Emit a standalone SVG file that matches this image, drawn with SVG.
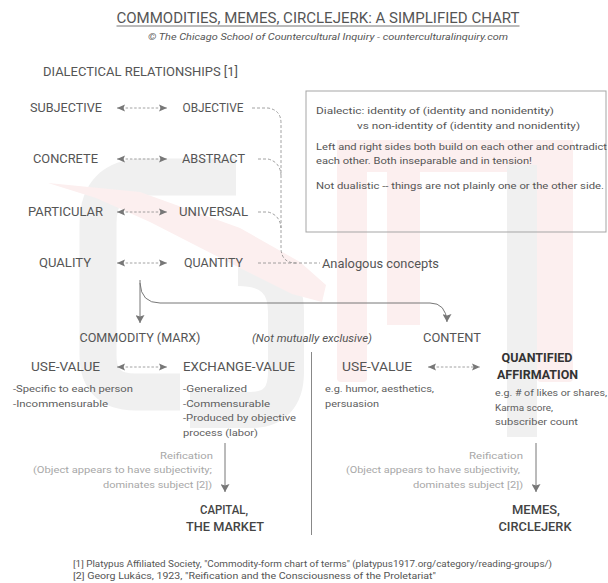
<svg xmlns="http://www.w3.org/2000/svg" width="608" height="583" viewBox="0 0 608 583">
<defs>
<style>
text{font-family:Roboto,"Liberation Sans",sans-serif;fill:#555}
.lbl{font-size:12px;text-anchor:middle}
.st{text-anchor:start}
.sm{font-size:9.6px;fill:#5e5e5e}
.box{font-size:9.6px;fill:#555}
.ref{font-size:9.6px;fill:#a8a8a8;text-anchor:end}
.big{font-size:12.5px;fill:#444;text-anchor:middle;font-weight:500}
.bold{font-weight:700;fill:#333}
.it{font-style:italic}
.wm-g{fill:none;stroke:#f0f0f0}
.wm-p{fill:#fcefef}
.dash{fill:none;stroke:#8a8a8a;stroke-width:0.8;stroke-dasharray:3 2}
.dbl{fill:none;stroke:#8a8a8a;stroke-width:0.8;stroke-dasharray:2.5 1.8;marker-start:url(#ah);marker-end:url(#ah)}
.sol{fill:none;stroke:#777;stroke-width:1}
</style>
<marker id="ah" viewBox="0 0 8 8" refX="8" refY="4" markerWidth="8" markerHeight="8" markerUnits="userSpaceOnUse" orient="auto-start-reverse">
<path d="M0,0.5 L8,4 L0,7.5 L1.5,4 z" fill="#777"/>
</marker>
<marker id="down" viewBox="0 0 9 8" refX="4.5" refY="8" markerWidth="9" markerHeight="8" markerUnits="userSpaceOnUse" orient="0">
<path d="M0,0 L4.5,8 L9,0 L4.5,1.5 z" fill="#777"/>
</marker>
</defs>
<rect width="608" height="583" fill="#fff"/>

<g id="watermark">
<path class="wm-g" stroke-width="37" d="M236 177 L145 177 Q98 177 98 224 L98 355 Q98 392 135 392 L180 392"/>
<path class="wm-g" stroke-width="36" d="M238 268 Q286 268 286 312 L286 372 Q286 410 250 410 L190 410"/>
<polygon class="wm-p" points="48,183 140,192 240,228 300,262 326,285 322,302 292,294 232,264 150,222 96,198"/>
<rect class="wm-p" x="337" y="140" width="236" height="32"/>
<rect class="wm-p" x="337" y="150" width="30" height="232" rx="4"/>
<rect class="wm-p" x="387" y="165" width="33" height="160"/>
<rect class="wm-p" x="537" y="150" width="36" height="232" rx="4"/>
<rect x="507" y="165" width="30" height="272" fill="#f0f0f0"/>
</g>

<g id="header">
<text x="318" y="22.5" class="lbl" textLength="403" lengthAdjust="spacingAndGlyphs" style="font-size:14px">COMMODITIES, MEMES, CIRCLEJERK: A SIMPLIFIED CHART</text>
<line x1="116.5" y1="26" x2="519.5" y2="26" stroke="#666" stroke-width="0.9"/>
<text x="328" y="40" class="lbl it" style="font-size:9.5px" textLength="360" lengthAdjust="spacingAndGlyphs">© The Chicago School of Countercultural Inquiry - counterculturalinquiry.com</text>
<text x="43" y="76" class="lbl st" textLength="195" lengthAdjust="spacingAndGlyphs">DIALECTICAL RELATIONSHIPS [1]</text>
</g>

<g id="connectors">
<line class="dbl" x1="117" y1="108" x2="167" y2="108"/>
<line class="dbl" x1="117" y1="159" x2="167" y2="159"/>
<line class="dbl" x1="117" y1="212" x2="167" y2="212"/>
<line class="dbl" x1="117" y1="263" x2="167" y2="263"/>
<line class="dbl" x1="117" y1="367" x2="167" y2="367"/>
<line class="dbl" x1="428" y1="367" x2="480" y2="367"/>
<path class="dash" d="M252 108 L268 108 Q281 110 281 123 L281 249 Q282 263 296 263 L320 263"/>
<path class="dash" d="M258 159 L268 159 Q280 162 281 175"/>
<path class="dash" d="M258 212 L268 212 Q280 215 281 228"/>
<path class="dash" d="M258 263 L296 263"/>
<path class="sol" d="M140 280 L140 323" marker-end="url(#down)"/>
<path class="sol" d="M140 283 Q141 303 160 303 L430 303 Q446 303 447 322" marker-end="url(#down)"/>
<line x1="311.5" y1="352" x2="311.5" y2="535" stroke="#888" stroke-width="1"/>
<path class="sol" d="M225 443 L225 492" marker-end="url(#down)"/>
<path class="sol" d="M536 443 L536 492" marker-end="url(#down)"/>
</g>

<g id="note-box">
<rect x="306" y="91" width="300" height="141" fill="none" stroke="#a5a5a5" stroke-width="1"/>
<text x="316" y="114" class="box" textLength="238" lengthAdjust="spacingAndGlyphs">Dialectic: identity of (identity and nonidentity)</text>
<text x="357" y="129" class="box" textLength="223" lengthAdjust="spacingAndGlyphs">vs non-identity of (identity and nonidentity)</text>
<text x="316" y="150" class="box" textLength="291" lengthAdjust="spacingAndGlyphs">Left and right sides both build on each other and contradict</text>
<text x="316" y="164" class="box" textLength="216" lengthAdjust="spacingAndGlyphs">each other. Both inseparable and in tension!</text>
<text x="316" y="189" class="box" textLength="288" lengthAdjust="spacingAndGlyphs">Not dualistic -- things are not plainly one or the other side.</text>
</g>

<g id="subjective"><text x="66" y="112.3" class="lbl" textLength="72" lengthAdjust="spacingAndGlyphs">SUBJECTIVE</text></g>
<g id="objective"><text x="213" y="112.3" class="lbl" textLength="61" lengthAdjust="spacingAndGlyphs">OBJECTIVE</text></g>
<g id="concrete"><text x="65.5" y="163.3" class="lbl" textLength="65" lengthAdjust="spacingAndGlyphs">CONCRETE</text></g>
<g id="abstract"><text x="213.5" y="163.3" class="lbl" textLength="63" lengthAdjust="spacingAndGlyphs">ABSTRACT</text></g>
<g id="particular"><text x="65.5" y="216.3" class="lbl" textLength="75" lengthAdjust="spacingAndGlyphs">PARTICULAR</text></g>
<g id="universal"><text x="213.5" y="216.3" class="lbl" textLength="69" lengthAdjust="spacingAndGlyphs">UNIVERSAL</text></g>
<g id="quality"><text x="65" y="267.3" class="lbl" textLength="52" lengthAdjust="spacingAndGlyphs">QUALITY</text></g>
<g id="quantity"><text x="213.5" y="267.3" class="lbl" textLength="59" lengthAdjust="spacingAndGlyphs">QUANTITY</text></g>
<g id="analogous"><text x="322" y="268" class="lbl st" textLength="117" lengthAdjust="spacingAndGlyphs">Analogous concepts</text></g>

<g id="commodity"><text x="140" y="342.3" class="lbl" textLength="121" lengthAdjust="spacingAndGlyphs">COMMODITY (MARX)</text></g>
<g id="not-exclusive"><text x="312" y="341.5" class="lbl it" style="font-size:10.5px" textLength="120" lengthAdjust="spacingAndGlyphs">(Not mutually exclusive)</text></g>
<g id="content"><text x="452" y="342.3" class="lbl" textLength="58" lengthAdjust="spacingAndGlyphs">CONTENT</text></g>

<g id="use-value-1">
<text x="65.5" y="371.3" class="lbl" textLength="69" lengthAdjust="spacingAndGlyphs">USE-VALUE</text>
<text x="13" y="391.5" class="sm" textLength="120" lengthAdjust="spacingAndGlyphs">-Specific to each person</text>
<text x="13" y="406.5" class="sm" textLength="95" lengthAdjust="spacingAndGlyphs">-Incommensurable</text>
</g>
<g id="exchange-value">
<text x="183" y="371.3" class="lbl st" textLength="112" lengthAdjust="spacingAndGlyphs">EXCHANGE-VALUE</text>
<text x="183" y="391.5" class="sm" textLength="64" lengthAdjust="spacingAndGlyphs">-Generalized</text>
<text x="183" y="406.5" class="sm" textLength="87" lengthAdjust="spacingAndGlyphs">-Commensurable</text>
<text x="183" y="421" class="sm" textLength="113" lengthAdjust="spacingAndGlyphs">-Produced by objective</text>
<text x="183" y="435.5" class="sm" textLength="75" lengthAdjust="spacingAndGlyphs">process (labor)</text>
</g>
<g id="use-value-2">
<text x="377" y="371.3" class="lbl" textLength="70" lengthAdjust="spacingAndGlyphs">USE-VALUE</text>
<text x="325" y="391.5" class="sm" textLength="109" lengthAdjust="spacingAndGlyphs">e.g. humor, aesthetics,</text>
<text x="325" y="406.5" class="sm" textLength="54" lengthAdjust="spacingAndGlyphs">persuasion</text>
</g>
<g id="quantified-affirmation">
<text x="537" y="361.5" class="lbl bold" textLength="71" lengthAdjust="spacingAndGlyphs">QUANTIFIED</text>
<text x="537.5" y="378.5" class="lbl bold" textLength="81" lengthAdjust="spacingAndGlyphs">AFFIRMATION</text>
<text x="495" y="395.5" class="sm" textLength="112" lengthAdjust="spacingAndGlyphs">e.g. # of likes or shares,</text>
<text x="495" y="410.5" class="sm" textLength="58" lengthAdjust="spacingAndGlyphs">Karma score,</text>
<text x="495" y="424.5" class="sm" textLength="83" lengthAdjust="spacingAndGlyphs">subscriber count</text>
</g>

<g id="reification-left">
<text x="213" y="458.5" class="ref" textLength="53" lengthAdjust="spacingAndGlyphs">Reification</text>
<text x="212" y="472.5" class="ref" textLength="179" lengthAdjust="spacingAndGlyphs">(Object appears to have subjectivity;</text>
<text x="212" y="487.5" class="ref" textLength="109" lengthAdjust="spacingAndGlyphs">dominates subject [2])</text>
</g>
<g id="capital"><text x="224" y="514" class="big" textLength="48" lengthAdjust="spacingAndGlyphs">CAPITAL,</text><text x="225" y="531" class="big" textLength="78" lengthAdjust="spacingAndGlyphs">THE MARKET</text></g>
<g id="reification-right">
<text x="523" y="458.5" class="ref" textLength="54" lengthAdjust="spacingAndGlyphs">Reification</text>
<text x="520" y="472.5" class="ref" textLength="174" lengthAdjust="spacingAndGlyphs">(Object appears to have subjectivity,</text>
<text x="523" y="487.5" class="ref" textLength="110" lengthAdjust="spacingAndGlyphs">dominates subject [2])</text>
</g>
<g id="memes"><text x="536" y="514" class="big" textLength="48" lengthAdjust="spacingAndGlyphs">MEMES,</text><text x="535" y="531" class="big" textLength="73" lengthAdjust="spacingAndGlyphs">CIRCLEJERK</text></g>

<g id="footnotes">
<text x="73" y="567" style="font-size:8.5px" textLength="479" lengthAdjust="spacingAndGlyphs">[1] Platypus Affiliated Society, "Commodity-form chart of terms" (platypus1917.org/category/reading-groups/)</text>
<text x="73" y="578.5" style="font-size:8.5px" textLength="363" lengthAdjust="spacingAndGlyphs">[2] Georg Lukács, 1923, "Reification and the Consciousness of the Proletariat"</text>
</g>
</svg>
